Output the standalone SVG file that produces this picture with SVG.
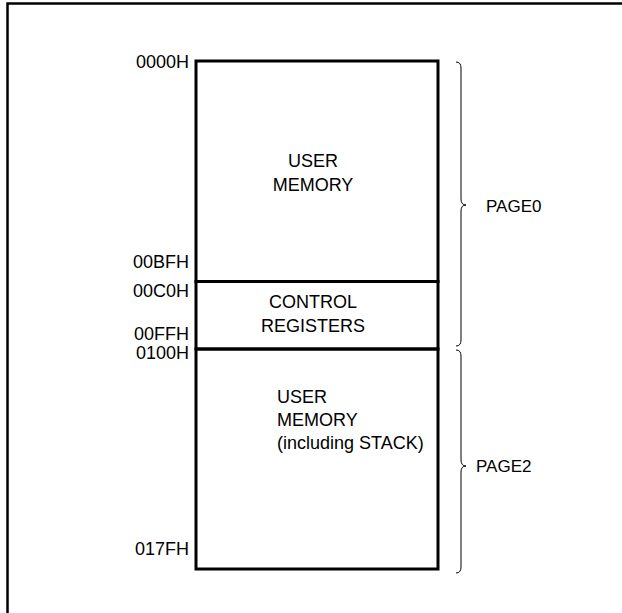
<svg xmlns="http://www.w3.org/2000/svg" width="622" height="613" viewBox="0 0 622 613">
<style>
text{font-family:"Liberation Sans",Arial,sans-serif;font-size:18px;fill:#000}
.addr{text-anchor:end}
.mid{text-anchor:middle}
.page{font-size:17px}
.box{fill:none;stroke:#000;stroke-width:3}
.brace{fill:none;stroke:#000;stroke-width:1}
</style>
<rect x="0" y="0" width="622" height="613" fill="#fff"/>
<rect x="7.5" y="3.5" width="700" height="700" fill="none" stroke="#000" stroke-width="2.5"/>
<g id="labels">
<text class="addr" x="189" y="68">0000H</text>
<text class="addr" x="189" y="268">00BFH</text>
<text class="addr" x="189" y="297">00C0H</text>
<text class="addr" x="189" y="340">00FFH</text>
<text class="addr" x="189" y="359">0100H</text>
<text class="addr" x="189" y="555">017FH</text>
</g>
<g id="user-memory">
<rect class="box" x="196" y="61" width="242" height="220.5"/>
<text class="mid" x="313" y="167">USER</text>
<text class="mid" x="313" y="191">MEMORY</text>
</g>
<g id="control-registers">
<rect class="box" x="196" y="281.5" width="242" height="67.5"/>
<text class="mid" x="313" y="308">CONTROL</text>
<text class="mid" x="313" y="332">REGISTERS</text>
</g>
<g id="user-memory-stack">
<rect class="box" x="196" y="349" width="242" height="220"/>
<text x="277" y="403">USER</text>
<text x="277" y="426">MEMORY</text>
<text x="277" y="449">(including STACK)</text>
</g>
<g id="connectors">
<path class="brace" d="M456 62 Q461 62 461 68 L461 199 Q461 205 466 205 Q461 205 461 211 L461 340 Q461 346 456 346"/>
<path class="brace" d="M456 350 Q461 350 461 356 L461 460 Q461 466 466 466 Q461 466 461 472 L461 567 Q461 573 456 573"/>
</g>
<g id="page0"><text class="page" x="486" y="212">PAGE0</text></g>
<g id="page2"><text class="page" x="476" y="472">PAGE2</text></g>
</svg>
